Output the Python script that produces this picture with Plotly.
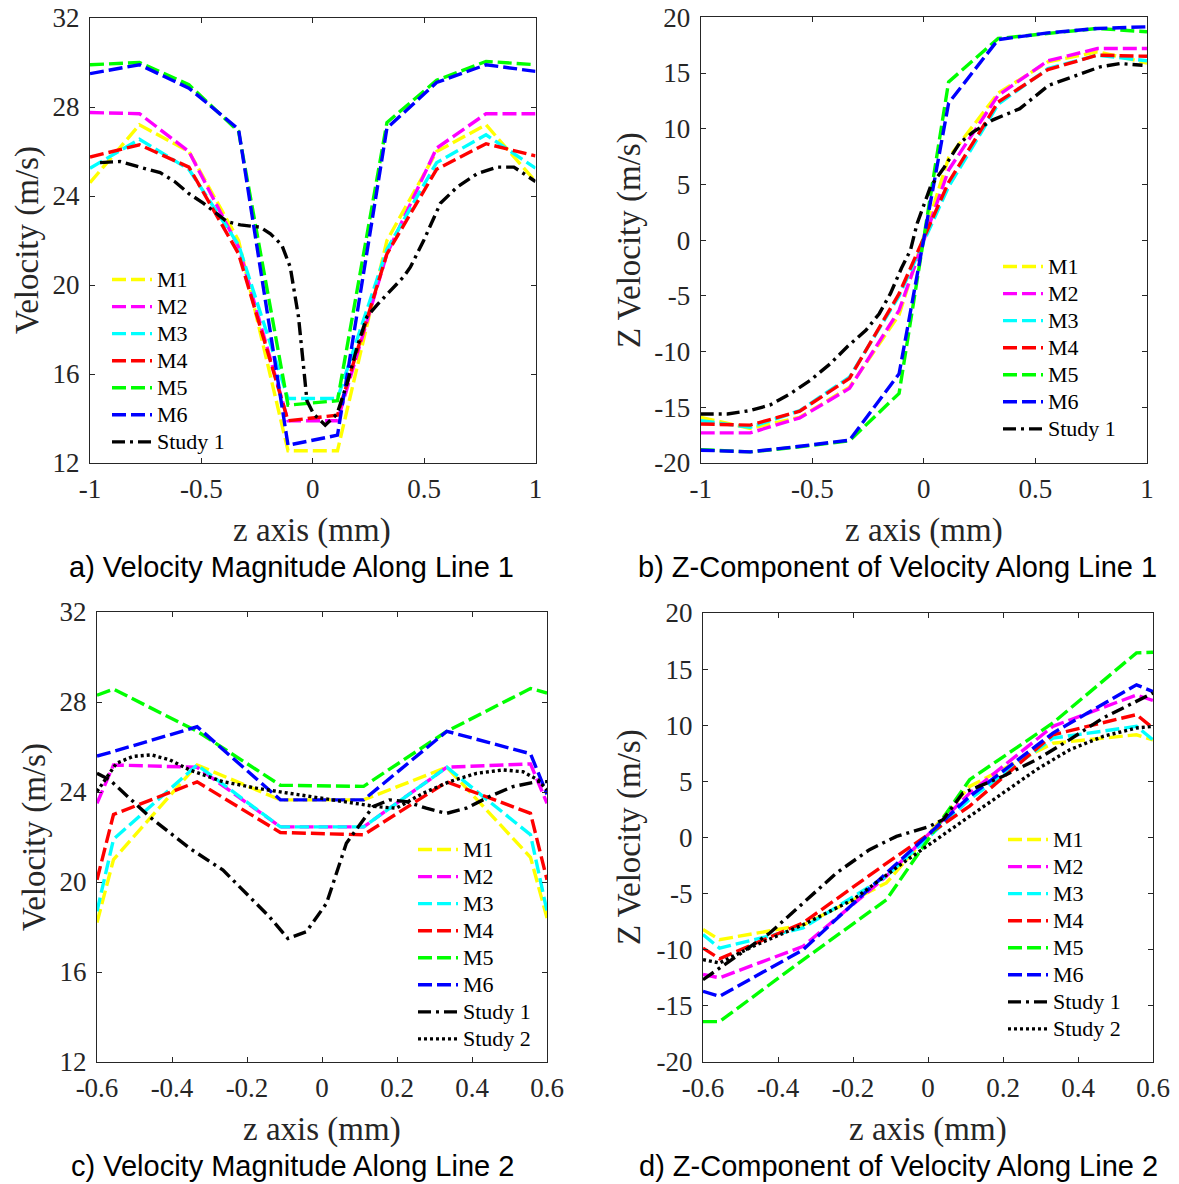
import plotly.graph_objects as go

# ---------------- data ----------------
# Panel a: velocity magnitude along line 1
XA = [-1.0, -0.778, -0.556, -0.333, -0.111, 0.111, 0.333, 0.556, 0.778, 1.0]
A_M1 = [24.6, 27.2, 26.0, 22.0, 12.55, 12.55, 22.0, 26.0, 27.2, 24.65]
A_M2 = [27.75, 27.7, 26.0, 21.7, 13.9, 13.9, 21.4, 26.15, 27.7, 27.7]
A_M3 = [25.25, 26.55, 25.2, 21.8, 14.9, 14.9, 21.6, 25.5, 26.75, 25.25]
A_M4 = [25.75, 26.3, 25.3, 21.4, 13.9, 14.15, 21.4, 25.2, 26.35, 25.8]
A_M5 = [29.9, 30.0, 29.0, 26.9, 14.6, 14.8, 27.3, 29.2, 30.05, 29.9]
A_M6 = [29.5, 29.9, 28.85, 27.0, 12.8, 13.25, 27.05, 29.1, 29.9, 29.6]
A_S1_X = [-0.955, -0.865, -0.778, -0.685, -0.62, -0.555, -0.49, -0.43, -0.385, -0.325,
          -0.236, -0.19, -0.139, -0.101, -0.064, -0.041, -0.026, 0.004, 0.056, 0.109,
          0.154, 0.199, 0.243, 0.288, 0.408, 0.438, 0.498, 0.573, 0.648, 0.738, 0.828,
          0.903, 1.0]
A_S1_Y = [25.5, 25.55, 25.3, 25.05, 24.65, 24.1, 23.67, 23.2, 22.85, 22.7,
          22.6, 22.3, 21.8, 20.8, 18.57, 16.3, 14.8, 14.2, 13.7, 14.2,
          15.57, 17.2, 18.57, 19.1, 20.37, 20.8, 22.0, 23.67, 24.4, 25.0, 25.3,
          25.3, 24.65]

# Panel b: Z-component along line 1
B_M1 = [-15.9, -16.9, -15.9, -13.2, -6.7, 7.4, 13.2, 16.0, 16.9, 15.9]
B_M2 = [-17.3, -17.3, -15.95, -13.3, -6.3, 6.3, 13.0, 16.1, 17.2, 17.2]
B_M3 = [-16.2, -16.8, -15.3, -12.3, -5.0, 4.8, 12.2, 15.4, 16.6, 16.1]
B_M4 = [-16.5, -16.6, -15.35, -12.4, -4.8, 5.2, 12.4, 15.3, 16.6, 16.5]
B_M5 = [-18.8, -19.0, -18.55, -18.0, -13.75, 14.2, 18.1, 18.55, 19.0, 18.7]
B_M6 = [-18.85, -19.0, -18.5, -17.95, -12.0, 12.3, 18.0, 18.6, 19.0, 19.15]
B_S1_X = [-1.0, -0.88, -0.78, -0.69, -0.6, -0.51, -0.42, -0.34, -0.26, -0.2, -0.15,
          -0.1, -0.06, -0.03, 0.03, 0.09, 0.16, 0.22, 0.31, 0.43, 0.56, 0.68, 0.79,
          0.88, 0.98]
B_S1_Y = [-15.6, -15.6, -15.3, -14.8, -13.8, -12.6, -11.1, -9.5, -8.1, -6.6, -4.8,
          -2.5, -0.9, 1.5, 4.8, 6.5, 8.7, 9.7, 10.8, 11.8, 13.9, 14.8, 15.55,
          15.85, 15.7]

# Panel c: velocity magnitude along line 2
XC = [-0.6, -0.556, -0.333, -0.111, 0.111, 0.333, 0.556, 0.6]
C_M1 = [18.2, 21.0, 25.2, 23.65, 23.65, 25.1, 21.1, 18.4]
C_M2 = [23.5, 25.2, 25.1, 22.45, 22.45, 25.1, 25.25, 23.5]
C_M3 = [18.7, 21.9, 25.2, 22.45, 22.45, 25.1, 22.1, 18.7]
C_M4 = [20.1, 23.0, 24.45, 22.2, 22.1, 24.45, 23.05, 20.1]
C_M5 = [28.3, 28.57, 26.7, 24.3, 24.25, 26.7, 28.6, 28.4]
C_M6 = [25.6, 25.8, 26.9, 23.65, 23.65, 26.7, 25.7, 23.9]
C_S1_X = [-0.6, -0.566, -0.46, -0.353, -0.264, -0.193, -0.14, -0.091, -0.042, 0.012,
          0.065, 0.136, 0.18, 0.225, 0.278, 0.332, 0.385, 0.447, 0.509, 0.572, 0.6]
C_S1_Y = [24.83, 24.54, 22.9, 21.5, 20.53, 19.34, 18.45, 17.49, 17.79, 19.05,
          21.72, 23.35, 23.65, 23.57, 23.28, 23.05, 23.28, 23.8, 24.24, 24.46, 24.46]
C_S2_X = [-0.6, -0.548, -0.504, -0.455, -0.406, -0.353, -0.264, -0.175, -0.086, 0.003,
          0.092, 0.145, 0.198, 0.269, 0.34, 0.412, 0.483, 0.536, 0.576, 0.6]
C_S2_Y = [24.02, 25.28, 25.58, 25.65, 25.43, 24.98, 24.46, 24.17, 23.94, 23.72,
          23.5, 23.35, 23.28, 23.94, 24.46, 24.83, 24.98, 24.9, 24.54, 24.09]

# Panel d: Z-component along line 2
D_M1 = [-8.2, -9.1, -7.8, -4.05, 4.55, 8.4, 9.15, 8.7]
D_M2 = [-12.2, -12.5, -9.7, -3.45, 3.95, 9.9, 12.7, 12.2]
D_M3 = [-8.65, -9.85, -8.05, -3.45, 3.4, 8.85, 9.9, 8.7]
D_M4 = [-9.85, -10.8, -7.6, -2.3, 2.8, 9.15, 10.95, 9.75]
D_M5 = [-16.4, -16.4, -10.9, -5.55, 5.15, 10.2, 16.45, 16.5]
D_M6 = [-13.7, -14.15, -10.0, -3.15, 3.65, 9.3, 13.6, 13.0]
D_S1_X = [-0.6, -0.511, -0.422, -0.333, -0.244, -0.156, -0.084, 0.004, 0.04, 0.093,
          0.156, 0.2, 0.289, 0.378, 0.467, 0.556, 0.6]
D_S1_Y = [-12.67, -10.59, -8.51, -5.84, -3.16, -1.08, 0.1, 0.99, 1.59, 3.96,
          4.86, 5.45, 6.93, 8.72, 10.65, 12.13, 12.87]
D_S2_X = [-0.6, -0.556, -0.467, -0.333, -0.2, -0.067, 0.022, 0.111, 0.2, 0.289,
          0.378, 0.467, 0.556, 0.6]
D_S2_Y = [-10.88, -11.18, -9.7, -7.77, -5.54, -2.27, -0.19, 1.89, 3.96, 6.04,
          7.82, 9.01, 9.76, 9.9]

# tick labels
X1_TICKS = [-1, -0.5, 0, 0.5, 1]
X1_TEXT = ["-1", "-0.5", "0", "0.5", "1"]
X2_TICKS = [-0.6, -0.4, -0.2, 0, 0.2, 0.4, 0.6]
X2_TEXT = ["-0.6", "-0.4", "-0.2", "0", "0.2", "0.4", "0.6"]
YMAG_TICKS = [12, 16, 20, 24, 28, 32]
YMAG_TEXT = ["12", "16", "20", "24", "28", "32"]
YZ_TICKS = [-20, -15, -10, -5, 0, 5, 10, 15, 20]
YZ_TEXT = ["-20", "-15", "-10", "-5", "0", "5", "10", "15", "20"]

NAMES = ["M1", "M2", "M3", "M4", "M5", "M6"]
COLORS = ["#FFFF00", "#FF00FF", "#00FFFF", "#FF0000", "#00FF00", "#0000FF"]

# ---------------- figure ----------------
W, H = 1179, 1184
SERIF = "Liberation Serif"
SANS = "Liberation Sans"
DASH = "14px,5px"
DASHDOT = "13px,5px,3px,5px"
DOT = "3px,3px"
LW = 3.4


def lgname(s):
    return '<span style="font-size:22px">' + s + '</span>'


fig = go.Figure()

panels = [
    ("x", "y", "legend", XA, [A_M1, A_M2, A_M3, A_M4, A_M5, A_M6], [(A_S1_X, A_S1_Y, "Study 1", DASHDOT)]),
    ("x2", "y2", "legend2", XA, [B_M1, B_M2, B_M3, B_M4, B_M5, B_M6], [(B_S1_X, B_S1_Y, "Study 1", DASHDOT)]),
    ("x3", "y3", "legend3", XC, [C_M1, C_M2, C_M3, C_M4, C_M5, C_M6],
     [(C_S1_X, C_S1_Y, "Study 1", DASHDOT), (C_S2_X, C_S2_Y, "Study 2", DOT)]),
    ("x4", "y4", "legend4", XC, [D_M1, D_M2, D_M3, D_M4, D_M5, D_M6],
     [(D_S1_X, D_S1_Y, "Study 1", DASHDOT), (D_S2_X, D_S2_Y, "Study 2", DOT)]),
]

for xa, ya, lg, xs, series, studies in panels:
    for name, col, ys in zip(NAMES, COLORS, series):
        fig.add_trace(go.Scatter(x=xs, y=ys, mode="lines", name=lgname(name), xaxis=xa, yaxis=ya,
                                 legend=lg, line=dict(color=col, width=LW, dash=DASH)))
    for sx, sy, sname, sdash in studies:
        fig.add_trace(go.Scatter(x=sx, y=sy, mode="lines", name=lgname(sname), xaxis=xa, yaxis=ya,
                                 legend=lg, line=dict(color="black", width=LW, dash=sdash)))


def px_x(p):
    return p / W


def px_y(p):
    return 1 - p / H


AX = dict(showline=True, linecolor="#262626", linewidth=1, mirror="ticks", ticks="inside",
          ticklen=5, tickcolor="#262626", showgrid=False, zeroline=False, automargin=False,
          tickfont=dict(family=SERIF, size=27, color="#262626"), fixedrange=True)

dom = {
    "a": ([90, 535.5], [18, 463]),
    "b": ([700.7, 1147], [17.3, 463]),
    "c": ([97, 547], [612, 1062]),
    "d": ([703, 1153], [613, 1062]),
}


def xd(k):
    return [px_x(dom[k][0][0]), px_x(dom[k][0][1])]


def yd(k):
    return [px_y(dom[k][1][1]), px_y(dom[k][1][0])]


XS = 2
YS = 4
layout = dict(
    width=W, height=H, margin=dict(l=0, r=0, t=0, b=0, autoexpand=False),
    paper_bgcolor="white", plot_bgcolor="white", showlegend=True,
    xaxis=dict(AX, domain=xd("a"), anchor="y", range=[-1, 1], tickvals=X1_TICKS, ticktext=X1_TEXT, ticklabelstandoff=XS),
    yaxis=dict(AX, domain=yd("a"), anchor="x", range=[12, 32], tickvals=YMAG_TICKS, ticktext=YMAG_TEXT, ticklabelstandoff=YS),
    xaxis2=dict(AX, domain=xd("b"), anchor="y2", range=[-1, 1], tickvals=X1_TICKS, ticktext=X1_TEXT, ticklabelstandoff=XS),
    yaxis2=dict(AX, domain=yd("b"), anchor="x2", range=[-20, 20], tickvals=YZ_TICKS, ticktext=YZ_TEXT, ticklabelstandoff=YS),
    xaxis3=dict(AX, domain=xd("c"), anchor="y3", range=[-0.6, 0.6], tickvals=X2_TICKS, ticktext=X2_TEXT, ticklabelstandoff=XS),
    yaxis3=dict(AX, domain=yd("c"), anchor="x3", range=[12, 32], tickvals=YMAG_TICKS, ticktext=YMAG_TEXT, ticklabelstandoff=YS),
    xaxis4=dict(AX, domain=xd("d"), anchor="y4", range=[-0.6, 0.6], tickvals=X2_TICKS, ticktext=X2_TEXT, ticklabelstandoff=XS),
    yaxis4=dict(AX, domain=yd("d"), anchor="x4", range=[-20, 20], tickvals=YZ_TICKS, ticktext=YZ_TEXT, ticklabelstandoff=YS),
)

LEG = dict(font=dict(family=SERIF, size=18.5, color="black"), bgcolor="rgba(0,0,0,0)",
           borderwidth=0, xanchor="left", yanchor="top", tracegroupgap=0, itemwidth=40)
layout["legend"] = dict(LEG, x=px_x(107), y=px_y(261))
layout["legend2"] = dict(LEG, x=px_x(998), y=px_y(248))
layout["legend3"] = dict(LEG, x=px_x(413), y=px_y(831))
layout["legend4"] = dict(LEG, x=px_x(1003), y=px_y(821))

ann = []
TFONT = dict(family=SERIF, size=33, color="#262626")
CFONT = dict(family=SANS, size=29, color="black")


def text(x, y, s, font, angle=0):
    ann.append(dict(x=px_x(x), y=px_y(y), xref="paper", yref="paper", text=s, showarrow=False,
                    xanchor="center", yanchor="middle", textangle=angle, font=font))


text(312, 530, "z axis (mm)", TFONT)
text(924, 530, "z axis (mm)", TFONT)
text(322, 1129, "z axis (mm)", TFONT)
text(928, 1129, "z axis (mm)", TFONT)
text(27, 240, "Velocity (m/s)", TFONT, -90)
text(629, 240, "Z Velocity (m/s)", TFONT, -90)
text(34, 837, "Velocity (m/s)", TFONT, -90)
text(629, 837, "Z Velocity (m/s)", TFONT, -90)
text(291, 567, "a) Velocity Magnitude Along Line 1", CFONT)
text(897, 567, "b) Z-Component of Velocity Along Line 1", CFONT)
text(292, 1166, "c) Velocity Magnitude Along Line 2", CFONT)
text(898, 1166, "d) Z-Component of Velocity Along Line 2", CFONT)
layout["annotations"] = ann

fig.update_layout(**layout)

fig.write_html("out.html", config={"displayModeBar": False},
               post_script="document.body.style.margin='0';document.body.style.overflow='hidden';")
